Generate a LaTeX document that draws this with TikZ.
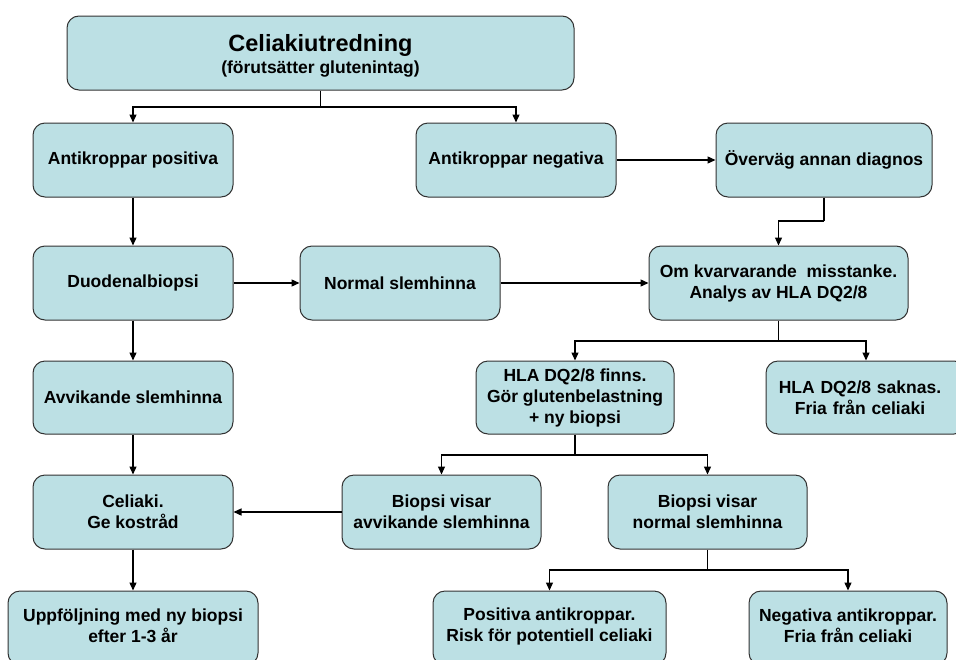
\documentclass[tikz,border=0pt]{standalone}
\usepackage{fontspec}
\setmainfont{Liberation Sans}
\usetikzlibrary{arrows.meta}
\definecolor{boxfill}{RGB}{188,224,228}
\definecolor{boxline}{RGB}{50,50,50}
\begin{document}
\begin{tikzpicture}[x=1pt,y=-1pt,
  fbox/.style={draw=boxline,line width=1pt,fill=boxfill,rounded corners=12pt,
    minimum height=74pt,inner sep=0pt,align=center,
    font=\fontsize{17.5}{21}\selectfont\bfseries},
  ftext/.style={font=\fontsize{17.5}{21}\selectfont\bfseries,align=center},
  arr/.style={draw=black,line width=1.3pt,-{Triangle[length=8pt,width=7pt]}},
  lin/.style={draw=black,line width=1.3pt}]
\useasboundingbox (0,0) rectangle (956,659);
\begin{scope}
\clip (0,0) rectangle (956,659);
\node[fbox,minimum width=507pt] (top) at (320.5,53) {};
\node[font=\bfseries,align=center] (toptext) at (320.5,56)
  {{\fontsize{23.5}{21}\selectfont Celiakiutredning}\\[3pt]{\fontsize{17.5}{21}\selectfont (förutsätter glutenintag)}};
\node[fbox,minimum width=200pt] (apos) at (133,160) {Antikroppar positiva};
\node[fbox,minimum width=200pt] (aneg) at (516,160) {Antikroppar negativa};
\node[fbox,minimum width=216pt] (overv) at (824,160) {Överväg annan diagnos};
\node[fbox,minimum width=200pt] (duod) at (133,283) {Duodenalbiopsi};
\node[fbox,minimum width=200pt] (normal) at (400,283) {Normal slemhinna};
\node[fbox,minimum width=259pt] (om) at (778.5,283) {Om kvarvarande\ \ misstanke.\\Analys av HLA DQ2/8};
\node[fbox,minimum width=200pt,minimum height=73pt] (avvik) at (133,397.5) {Avvikande slemhinna};
\node[fbox,minimum width=198pt,minimum height=73pt] (finns) at (575,397.5) {HLA DQ2/8 finns.\\Gör glutenbelastning\\+ ny biopsi};
\node[fbox,minimum width=200pt,minimum height=73pt,text width=188pt] (saknas) at (866,397.5) {\hspace*{-12pt}HLA DQ2/8 saknas.\\\hspace*{-12pt}Fria från celiaki};
\node[fbox,minimum width=200pt] (celiaki) at (133,512) {Celiaki.\\Ge kostråd};
\node[fbox,minimum width=199pt] (bavvik) at (441.5,512) {Biopsi visar\\avvikande slemhinna};
\node[fbox,minimum width=199pt] (bnorm) at (707.5,512) {Biopsi visar\\normal slemhinna};
\node[fbox,minimum width=250pt] (uppf) at (133,628) {};
\node[ftext] (uppft) at (133,626) {Uppföljning med ny biopsi\\efter 1-3 år};
\node[fbox,minimum width=233pt] (pos) at (549.5,628) {};
\node[ftext] (post) at (549.5,626) {Positiva antikroppar.\\Risk för potentiell celiaki};
\node[fbox,minimum width=198pt] (neg) at (848,628) {};
\node[ftext] (negt) at (848,626) {Negativa antikroppar.\\Fria från celiaki};
\end{scope}
% connectors
\coordinate (j1) at (320.5,107);
\draw[lin] (top.south) -- (j1);
\draw[arr] (j1) -| (apos.north);
\draw[arr] (j1) -| (aneg.north);
\draw[arr] (aneg.east) -- (overv.west);
\coordinate (j2) at (824,221);
\draw[lin] (overv.south) -- (j2);
\draw[arr] (j2) -| (om.north);
\draw[arr] (apos.south) -- (duod.north);
\draw[arr] (duod.east) -- (normal.west);
\draw[arr] (normal.east) -- (om.west);
\draw[arr] (duod.south) -- (avvik.north);
\draw[arr] (avvik.south) -- (celiaki.north);
\coordinate (j3) at (778.5,341);
\draw[lin] (om.south) -- (j3);
\draw[arr] (j3) -| (finns.north);
\draw[arr] (j3) -| (saknas.north);
\coordinate (j4) at (575,455);
\draw[lin] (finns.south) -- (j4);
\draw[arr] (j4) -| (bavvik.north);
\draw[arr] (j4) -| (bnorm.north);
\draw[arr] (bavvik.west) -- (celiaki.east);
\draw[arr] (celiaki.south) -- (uppf.north);
\coordinate (j5) at (707.5,570);
\draw[lin] (bnorm.south) -- (j5);
\draw[arr] (j5) -| (pos.north);
\draw[arr] (j5) -| (neg.north);
\end{tikzpicture}
\end{document}
